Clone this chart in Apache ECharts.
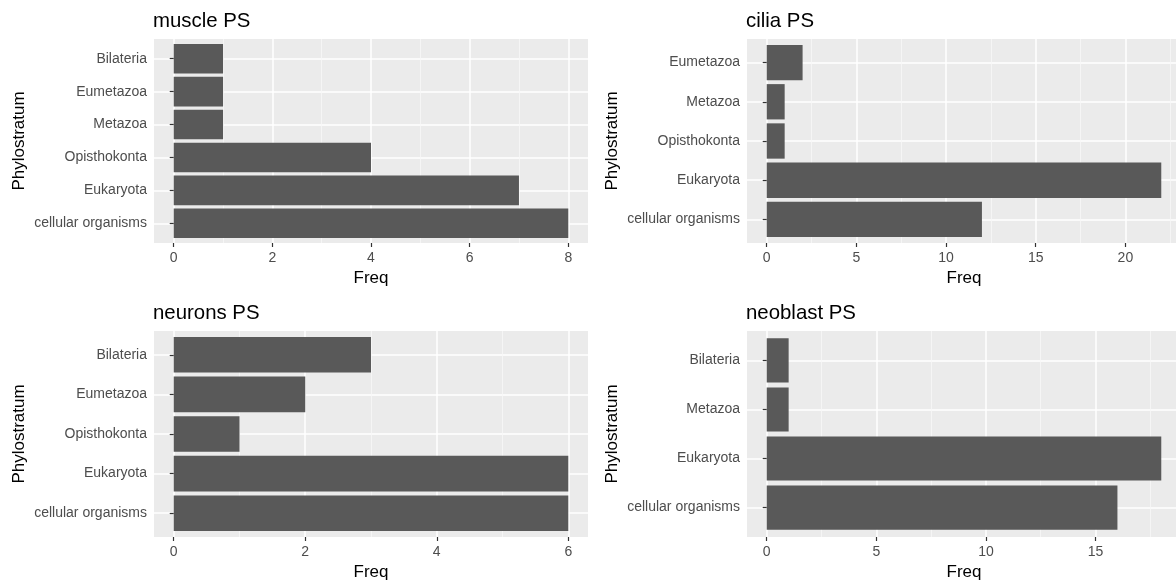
<!DOCTYPE html>
<html><head><meta charset="utf-8">
<script src="https://cdn.jsdelivr.net/npm/echarts@6/dist/echarts.min.js"></script>
<style>html,body{margin:0;padding:0;background:#fff}#c{width:1176px;height:581px}</style>
</head><body><div id="c"></div>
<script>
// Data (categories listed bottom-to-top, as ggplot orders factor levels)
const muscleCats = ['cellular organisms', 'Eukaryota', 'Opisthokonta', 'Metazoa', 'Eumetazoa', 'Bilateria'];
const muscleVals = [8, 7, 4, 1, 1, 1];
const ciliaCats = ['cellular organisms', 'Eukaryota', 'Opisthokonta', 'Metazoa', 'Eumetazoa'];
const ciliaVals = [12, 22, 1, 1, 2];
const neuronsCats = ['cellular organisms', 'Eukaryota', 'Opisthokonta', 'Eumetazoa', 'Bilateria'];
const neuronsVals = [6, 6, 1, 2, 3];
const neoblastCats = ['cellular organisms', 'Eukaryota', 'Metazoa', 'Bilateria'];
const neoblastVals = [16, 18, 1, 1];
// Tick labels (x breaks)
const muscleBreaks = [0, 2, 4, 6, 8];
const ciliaBreaks = [0, 5, 10, 15, 20];
const neuronsBreaks = [0, 2, 4, 6];
const neoblastBreaks = [0, 5, 10, 15];
const titles = ['muscle PS', 'cilia PS', 'neurons PS', 'neoblast PS'];
const xTitle = 'Freq';
const yTitle = 'Phylostratum';

const panels = [
  {title: titles[0], cats: muscleCats, vals: muscleVals, breaks: muscleBreaks},
  {title: titles[1], cats: ciliaCats, vals: ciliaVals, breaks: ciliaBreaks},
  {title: titles[2], cats: neuronsCats, vals: neuronsVals, breaks: neuronsBreaks},
  {title: titles[3], cats: neoblastCats, vals: neoblastVals, breaks: neoblastBreaks}
];
const layout = [
  {left: 154, top: 39, width: 434, height: 204},
  {left: 747, top: 39, width: 434, height: 204},
  {left: 154, top: 331, width: 434, height: 206},
  {left: 747, top: 331, width: 434, height: 206}
];

const FONT = 'Liberation Sans, Arial, Helvetica, sans-serif';
const BG = '#EBEBEB', BAR = '#595959', TXT = '#4D4D4D', TICK = '#333333';

const option = {
  animation: false,
  backgroundColor: '#ffffff',
  title: [], grid: [], xAxis: [], yAxis: [], series: []
};

panels.forEach((p, i) => {
  const L = layout[i];
  const vmax = Math.max(...p.vals);
  const step = p.breaks[1] - p.breaks[0];
  const idx = p.cats.map((_, k) => k + 1);
  option.title.push({
    text: p.title, left: L.left - 1, top: L.top - 28, padding: 0,
    textStyle: {fontFamily: FONT, fontSize: 20.4, fontWeight: 'normal', color: '#000'}
  });
  option.grid.push({
    left: L.left, top: L.top, width: L.width, height: L.height,
    show: true, backgroundColor: BG, borderWidth: 0,
    containLabel: false, outerBoundsMode: 'none'
  });
  option.xAxis.push({
    type: 'value', gridIndex: i,
    min: -0.05 * vmax, max: 1.05 * vmax,
    minInterval: step, maxInterval: step,
    name: xTitle, nameLocation: 'middle', nameGap: 27,
    nameTextStyle: {fontFamily: FONT, fontSize: 17, color: '#000'},
    axisLine: {show: false},
    axisTick: {show: true, length: 4, customValues: p.breaks, lineStyle: {color: TICK, width: 1.2}},
    axisLabel: {customValues: p.breaks, margin: 8, fontFamily: FONT, fontSize: 14, color: TXT},
    splitLine: {show: true, lineStyle: {color: '#ffffff', width: 1.5}},
    minorTick: {show: false, splitNumber: 2},
    minorSplitLine: {show: true, lineStyle: {color: '#F7F7F7', width: 0.8}}
  });
  option.yAxis.push({
    type: 'value', gridIndex: i,
    min: 0.4, max: p.cats.length + 0.6,
    name: yTitle, nameLocation: 'middle', nameGap: 126, nameRotate: 90,
    nameTextStyle: {fontFamily: FONT, fontSize: 17, color: '#000'},
    axisLine: {show: false},
    axisTick: {show: true, length: 4, customValues: idx, lineStyle: {color: TICK, width: 1.2}},
    axisLabel: {
      customValues: idx, margin: 7, fontFamily: FONT, fontSize: 14, color: TXT,
      formatter: (v) => p.cats[Math.round(v) - 1] || ''
    },
    splitLine: {show: true, lineStyle: {color: '#ffffff', width: 1.5}},
    minorSplitLine: {show: false}
  });
  option.series.push({
    type: 'custom', xAxisIndex: i, yAxisIndex: i,
    data: p.vals.map((v, k) => [v, k + 1]),
    encode: {x: 0, y: 1},
    renderItem: (params, api) => {
      const v = api.value(0), c = api.value(1);
      const p0 = api.coord([0, c]);
      const p1 = api.coord([v, c]);
      const h = api.size([0, 0.9])[1];
      return {
        type: 'rect',
        shape: {x: p0[0], y: p0[1] - h / 2, width: p1[0] - p0[0], height: h},
        style: {fill: BAR}
      };
    }
  });
});

const chart = echarts.init(document.getElementById('c'), null, {renderer: 'canvas'});
chart.setOption(option);
</script>
</body></html>
